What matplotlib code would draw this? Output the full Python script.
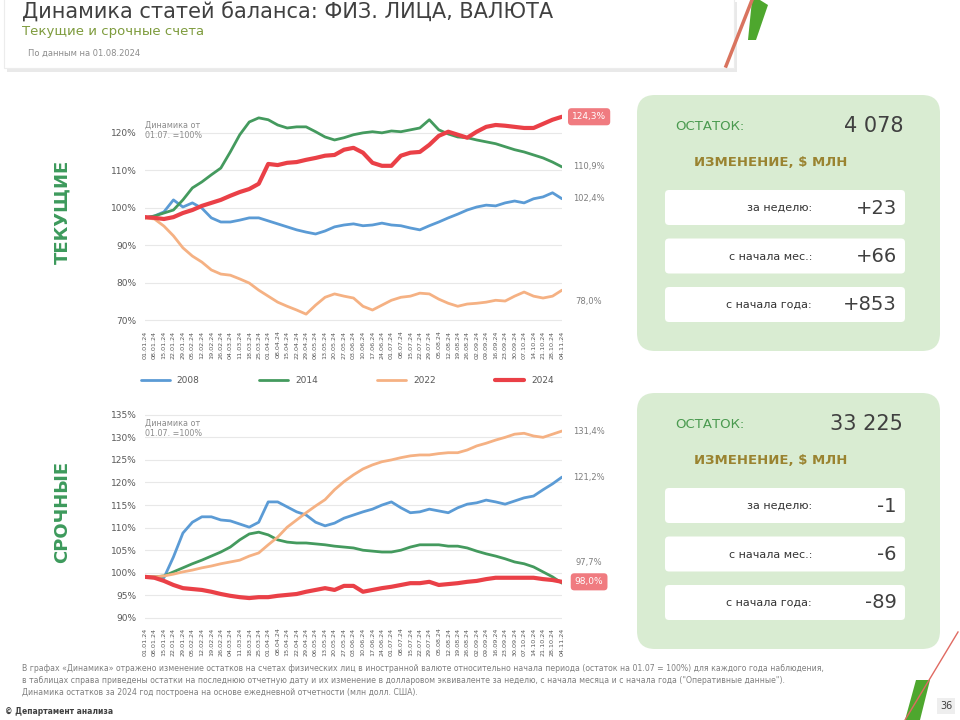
import matplotlib
matplotlib.use("Agg")
import matplotlib.pyplot as plt
from matplotlib.patches import FancyBboxPatch, Rectangle, Polygon
from matplotlib.transforms import blended_transform_factory

plt.rcParams['font.family'] = ['DejaVu Sans']

# --- данные ---
dates = ["01.01.24", "08.01.24", "15.01.24", "22.01.24", "29.01.24", "05.02.24", "12.02.24", "19.02.24",
         "26.02.24", "04.03.24", "11.03.24", "18.03.24", "25.03.24", "01.04.24", "08.04.24", "15.04.24",
         "22.04.24", "29.04.24", "06.05.24", "13.05.24", "20.05.24", "27.05.24", "03.06.24", "10.06.24",
         "17.06.24", "24.06.24", "01.07.24", "08.07.24", "15.07.24", "22.07.24", "29.07.24", "05.08.24",
         "12.08.24", "19.08.24", "26.08.24", "02.09.24", "09.09.24", "16.09.24", "23.09.24", "30.09.24",
         "07.10.24", "14.10.24", "21.10.24", "28.10.24", "04.11.24"]
years = ["2008", "2014", "2022", "2024"]

cur_2008 = [97.3, 97.8, 98.9, 102.1, 100.2, 101.3, 99.9, 97.3, 96.2, 96.2, 96.7, 97.3, 97.3, 96.5, 95.7,
            94.9, 94.1, 93.5, 93.0, 93.8, 94.9, 95.4, 95.7, 95.2, 95.4, 95.9, 95.4, 95.2, 94.6, 94.1,
            95.2, 96.2, 97.3, 98.3, 99.4, 100.2, 100.7, 100.5, 101.3, 101.8, 101.3, 102.4, 102.9, 104.0, 102.4]
cur_2014 = [97.3, 97.8, 98.6, 99.4, 102.1, 105.3, 106.9, 108.8, 110.6, 114.9, 119.5, 122.9, 124.0, 123.5, 122.1,
            121.3, 121.6, 121.6, 120.3, 118.9, 118.1, 118.7, 119.5, 120.0, 120.3, 120.0, 120.5, 120.3, 120.8, 121.3,
            123.5, 120.8, 119.7, 118.9, 118.7, 118.1, 117.6, 117.1, 116.3, 115.5, 114.9, 114.1, 113.3, 112.2, 110.9]
cur_2022 = [97.3, 97.0, 95.1, 92.5, 89.3, 87.1, 85.5, 83.4, 82.3, 82.0, 81.0, 79.9, 78.0, 76.4, 74.8,
            73.7, 72.7, 71.6, 74.0, 76.1, 77.0, 76.4, 75.9, 73.7, 72.7, 74.0, 75.3, 76.1, 76.4, 77.2,
            77.0, 75.6, 74.5, 73.7, 74.3, 74.5, 74.8, 75.3, 75.1, 76.4, 77.5, 76.4, 75.9, 76.4, 78.0]
cur_2024 = [97.5, 97.3, 97.0, 97.5, 98.6, 99.4, 100.5, 101.3, 102.1, 103.2, 104.2, 105.0, 106.4, 111.7, 111.4,
            112.0, 112.2, 112.8, 113.3, 113.9, 114.1, 115.5, 116.0, 114.7, 112.0, 111.2, 111.2, 113.9, 114.7, 114.9,
            116.8, 119.2, 120.3, 119.5, 118.7, 120.3, 121.6, 122.1, 121.9, 121.6, 121.3, 121.3, 122.4, 123.5, 124.3]

term_2008 = [99.1, 98.9, 98.9, 103.5, 108.8, 111.2, 112.4, 112.4, 111.7, 111.5, 110.8, 110.1, 111.2, 115.7, 115.7,
             114.6, 113.5, 112.8, 111.2, 110.4, 111.0, 112.1, 112.8, 113.5, 114.1, 115.0, 115.7, 114.4, 113.3, 113.5,
             114.1, 113.7, 113.3, 114.4, 115.2, 115.5, 116.1, 115.7, 115.2, 115.9, 116.6, 117.0, 118.4, 119.7, 121.2]
term_2014 = [99.1, 99.1, 99.3, 100.2, 101.1, 102.0, 102.8, 103.7, 104.6, 105.7, 107.3, 108.6, 109.0, 108.4, 107.3,
             106.8, 106.6, 106.6, 106.4, 106.2, 105.9, 105.7, 105.5, 105.0, 104.8, 104.6, 104.6, 105.0, 105.7, 106.2,
             106.2, 106.2, 105.9, 105.9, 105.5, 104.8, 104.2, 103.7, 103.1, 102.4, 102.0, 101.3, 100.2, 99.1, 97.7]
term_2022 = [99.1, 99.1, 99.3, 99.7, 100.2, 100.6, 101.1, 101.5, 102.0, 102.4, 102.8, 103.7, 104.4, 106.2, 107.9,
             110.1, 111.7, 113.3, 114.8, 116.2, 118.4, 120.2, 121.7, 123.0, 123.9, 124.6, 125.0, 125.5, 125.9, 126.1,
             126.1, 126.4, 126.6, 126.6, 127.2, 128.1, 128.7, 129.4, 130.0, 130.7, 130.9, 130.3, 130.0, 130.7, 131.4]
term_2024 = [99.1, 98.9, 98.2, 97.3, 96.6, 96.4, 96.2, 95.8, 95.3, 94.9, 94.6, 94.4, 94.6, 94.6, 94.9,
             95.1, 95.3, 95.8, 96.2, 96.6, 96.2, 97.1, 97.1, 95.8, 96.2, 96.6, 96.9, 97.3, 97.7, 97.7,
             98.0, 97.3, 97.5, 97.7, 98.0, 98.2, 98.6, 98.9, 98.9, 98.9, 98.9, 98.9, 98.6, 98.4, 98.0]

cur_balance = "4 078"
cur_changes = ["+23", "+66", "+853"]
term_balance = "33 225"
term_changes = ["-1", "-6", "-89"]
change_names = ["за неделю:", "с начала мес.:", "с начала года:"]

colors = ["#5b9bd5", "#449a5e", "#f5b183", "#ea4047"]
widths = [2.0, 2.0, 2.0, 3.0]

fig = plt.figure(figsize=(9.6, 7.2), dpi=100)

# фоновая ось в пикселях
bg = fig.add_axes([0, 0, 1, 1], zorder=-5)
bg.set_xlim(0, 960)
bg.set_ylim(720, 0)
bg.axis("off")


def fig_rect(x0, y0, x1, y1):
    return [x0 / 960, 1 - y1 / 720, (x1 - x0) / 960, (y1 - y0) / 720]


def pct(v):
    return f"{v:.1f}%".replace(".", ",")


def draw_chart(rect, series, ylim, yticks, with_legend, label_shift):
    ax = fig.add_axes(rect)
    x = list(range(len(dates)))
    for s, c, w, name in zip(series, colors, widths, years):
        ax.plot(x, s, color=c, lw=w, label=name, solid_capstyle="round")
    ax.set_xlim(0, len(dates) - 1)
    ax.set_ylim(*ylim)
    ax.set_yticks(yticks)
    ax.set_yticklabels([f"{t}%" for t in yticks], fontsize=6.5, color="#595959")
    ax.set_xticks(x)
    ax.set_xticklabels(dates, rotation=90, fontsize=4.6, color="#595959")
    ax.tick_params(length=0, pad=6)
    ax.tick_params(axis="x", pad=4)
    for sp in ax.spines.values():
        sp.set_visible(False)
    ax.grid(axis="y", color="#e8e8e8", lw=0.8)
    ax.set_axisbelow(True)
    ax.text(0.0, 0.95, "Динамика от\n01.07. =100%", transform=ax.transAxes, fontsize=5.8,
            color="#8c8c8c", va="top", ha="left")
    tr = blended_transform_factory(ax.transAxes, ax.transData)
    for s, c, shift in zip(series, colors, label_shift):
        if c == colors[3]:
            ax.text(1.065, s[-1] + shift, pct(s[-1]), transform=tr, fontsize=6.5, color="white",
                    ha="center", va="center",
                    bbox=dict(boxstyle="round,pad=0.45,rounding_size=0.4", fc="#f07b80", ec="none"))
        else:
            ax.text(1.065, s[-1] + shift, pct(s[-1]), transform=tr, fontsize=6,
                    color="#7f7f7f", ha="center", va="center")
    if with_legend:
        ax.legend(ncol=4, loc="upper left", bbox_to_anchor=(-0.03, -0.30, 1.03, 0.1), mode="expand",
                  frameon=False, fontsize=6.5, handlelength=3.2, labelcolor="#595959")
    return ax


draw_chart(fig_rect(145, 110, 562, 325), [cur_2008, cur_2014, cur_2022, cur_2024],
           (68.7, 126.1), [70, 80, 90, 100, 110, 120], True, [0, 0, -3, 0])
draw_chart(fig_rect(145, 408, 562, 622), [term_2008, term_2014, term_2022, term_2024],
           (89.1, 136.5), [90, 95, 100, 105, 110, 115, 120, 125, 130, 135], False, [0, 4.5, 0, 0])

# заголовок
bg.add_patch(Rectangle((7, 2), 730, 70, fc="#e9e9e9", ec="none"))
bg.add_patch(Rectangle((4, -2), 730, 70, fc="white", ec="#ececec", lw=0.8))
bg.text(22, 13, "Динамика статей баланса: ФИЗ. ЛИЦА, ВАЛЮТА", fontsize=15, color="#404040",
        va="center", fontweight="medium")
bg.text(22, 32, "Текущие и срочные счета", fontsize=9.5, color="#7d9b3c", va="center")
bg.text(28, 53, "По данным на 01.08.2024", fontsize=6, color="#8c8c8c", va="center")
bg.plot([726, 752], [66, 0], color="#d9745f", lw=2.5)
bg.add_patch(Polygon([[748, 40], [756, 40], [768, 5], [760, 0], [752, 0]], closed=True, fc="#4ea72e", ec="none"))

# подписи слева
bg.text(62, 212, "ТЕКУЩИЕ", rotation=90, fontsize=13, fontweight="bold", color="#3d9a5c",
        ha="center", va="center")
bg.text(62, 512, "СРОЧНЫЕ", rotation=90, fontsize=13, fontweight="bold", color="#3d9a5c",
        ha="center", va="center")


def panel(top, balance, changes):
    bg.add_patch(FancyBboxPatch((637, top), 303, 256, boxstyle="round,pad=0,rounding_size=18",
                                fc="#d9ecd2", ec="none"))
    bg.text(675, top + 31, "ОСТАТОК:", fontsize=9.5, color="#4a9a4f", va="center")
    bg.text(903, top + 31, balance, fontsize=15, color="#404040", va="center", ha="right")
    bg.text(771, top + 68, "ИЗМЕНЕНИЕ, $ МЛН", fontsize=9.5, fontweight="bold", color="#9a8330",
            va="center", ha="center")
    for k, (name, val) in enumerate(zip(change_names, changes)):
        y0 = top + 95 + k * 48.5
        bg.add_patch(FancyBboxPatch((665, y0), 240, 35, boxstyle="round,pad=0,rounding_size=4",
                                    fc="white", ec="none"))
        bg.text(812, y0 + 18, name, fontsize=8, color="#333333", va="center", ha="right")
        bg.text(897, y0 + 18, val, fontsize=14, color="#404040", va="center", ha="right")


panel(95, cur_balance, cur_changes)
panel(393, term_balance, term_changes)

# сноски
foot = ("В графах «Динамика» отражено изменение остатков на счетах физических лиц в иностранной валюте "
        "относительно начала периода (остаток на 01.07 = 100%) для каждого года наблюдения,\n"
        "в таблицах справа приведены остатки на последнюю отчетную дату и их изменение в долларовом "
        "эквиваленте за неделю, с начала месяца и с начала года (\"Оперативные данные\").\n"
        "Динамика остатков за 2024 год построена на основе ежедневной отчетности (млн долл. США).")
bg.text(22, 664, foot, fontsize=5.6, color="#7f7f7f", va="top", ha="left", linespacing=1.45)
bg.text(5, 712, "© Департамент анализа", fontsize=5.5, color="#404040", fontweight="bold", va="center")

# декор снизу справа
bg.plot([958, 905], [632, 720], color="#e06a62", lw=1.0)
bg.add_patch(Polygon([[905, 720], [920, 720], [930, 680], [916, 680]], closed=True, fc="#4ea72e", ec="none"))
bg.text(946, 706, "36", fontsize=7, color="#404040", ha="center", va="center",
        bbox=dict(boxstyle="square,pad=0.3", fc="#eeeeee", ec="none"))

fig.savefig("out.png", dpi=100)
